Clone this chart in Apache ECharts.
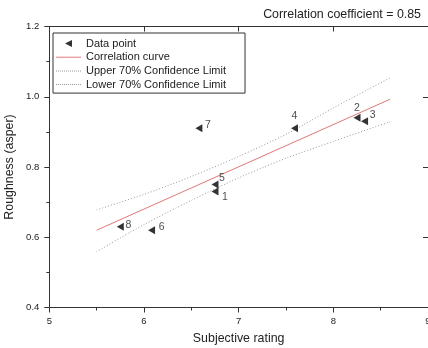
<!DOCTYPE html>
<html>
<head>
<meta charset="utf-8">
<script src="https://cdn.jsdelivr.net/npm/echarts@6/dist/echarts.min.js"></script>
<style>
html,body{margin:0;padding:0;background:#fff;}
#chart{width:428px;height:348px;}
</style>
</head>
<body>
<div id="chart"></div>
<script>
// ---- data ----
var pointNames = ['1', '2', '3', '4', '5', '6', '7', '8'];
var pointX = [6.75, 8.25, 8.33, 7.59, 6.75, 6.08, 6.58, 5.75];
var pointY = [0.73, 0.94, 0.93, 0.91, 0.75, 0.62, 0.91, 0.63];

var fitX = [5.5, 8.6];
var fitY = [0.62, 0.993];

var bandX = [5.5, 6.0, 6.5, 7.0, 7.5, 8.0, 8.6];
var upperY = [0.678, 0.722, 0.773, 0.830, 0.893, 0.968, 1.054];
var lowerY = [0.559, 0.636, 0.705, 0.769, 0.825, 0.873, 0.929];

var xTicks = { min: 5, max: 9, interval: 1 };
var yTicks = { min: 0.4, max: 1.2, interval: 0.2 };

var corrText = 'Correlation coefficient = 0.85';
var xTitle = 'Subjective rating';
var yTitle = 'Roughness (asper)';
var legendNames = ['Data point', 'Correlation curve', 'Upper 70% Confidence Limit', 'Lower 70% Confidence Limit'];

// ---- label placement (style only) ----
var labelOffsets = [[10, 6], [0, -10], [8, -6], [0, -12], [7, -6], [10, -3], [9, -3], [8, -2]];

var FONT = 'Liberation Sans, Arial, sans-serif';
var AXIS = '#333';
var TXT = '#222';

function zip(xs, ys) { return xs.map(function (x, i) { return [x, ys[i]]; }); }

var scatterData = pointX.map(function (x, i) {
  return {
    name: pointNames[i],
    value: [x, pointY[i]],
    label: { offset: labelOffsets[i] }
  };
});

var tri = 'path://M0,5L10,0L10,10Z';
var solidIcon = 'path://M0,0L25,0L25,1L0,1Z';
var dotIcon = 'path://';
for (var k = 0; k < 13; k++) {
  var a = 2 * k;
  dotIcon += 'M' + a + ',0L' + (a + 1) + ',0L' + (a + 1) + ',1L' + a + ',1Z';
}

var chart = echarts.init(document.getElementById('chart'), null, { renderer: 'canvas' });
chart.setOption({
  animation: false,
  backgroundColor: '#fff',
  textStyle: { fontFamily: FONT },
  grid: { left: 49.3, top: 26.5, right: 0, bottom: 40.5, outerBoundsMode: 'none', containLabel: false },
  graphic: [{
    type: 'text', x: 421, y: 15, z: 10,
    style: { text: corrText, align: 'right', verticalAlign: 'middle', fontSize: 12.4, fontFamily: FONT, fill: TXT }
  }],
  legend: {
    orient: 'vertical', left: 53, top: 33,
    padding: [5, 19, 3, 3], itemGap: 2.7, itemWidth: 25, itemHeight: 7,
    backgroundColor: '#fff', borderColor: AXIS, borderWidth: 1,
    textStyle: { fontSize: 11, color: TXT, fontFamily: FONT },
    data: [
      { name: legendNames[0], icon: tri },
      { name: legendNames[1], icon: solidIcon },
      { name: legendNames[2], icon: dotIcon },
      { name: legendNames[3], icon: dotIcon }
    ],
    z: 10
  },
  xAxis: [{
    type: 'value', position: 'bottom', min: xTicks.min, max: xTicks.max, interval: xTicks.interval,
    name: xTitle, nameLocation: 'middle', nameGap: 25,
    nameTextStyle: { fontSize: 12.4, color: TXT, fontFamily: FONT },
    axisLine: { show: true, onZero: false, lineStyle: { color: AXIS, width: 1 } },
    axisTick: { show: true, inside: false, length: 5, lineStyle: { color: AXIS } },
    minorTick: { show: true, splitNumber: 2, length: 3, lineStyle: { color: AXIS } },
    splitLine: { show: false },
    axisLabel: { fontSize: 9.5, color: TXT, margin: 9, fontFamily: FONT }
  }, {
    type: 'value', position: 'top', min: xTicks.min, max: xTicks.max, interval: xTicks.interval,
    axisLine: { show: true, onZero: false, lineStyle: { color: AXIS, width: 1 } },
    axisTick: { show: true, inside: true, length: 5, lineStyle: { color: AXIS } },
    minorTick: { show: false },
    splitLine: { show: false },
    axisLabel: { show: false }
  }],
  yAxis: [{
    type: 'value', position: 'left', min: yTicks.min, max: yTicks.max, interval: yTicks.interval,
    name: yTitle, nameLocation: 'middle', nameGap: 27,
    nameTextStyle: { fontSize: 12.4, color: TXT, fontFamily: FONT },
    axisLine: { show: true, onZero: false, lineStyle: { color: AXIS, width: 1 } },
    axisTick: { show: true, inside: false, length: 5, lineStyle: { color: AXIS } },
    minorTick: { show: true, splitNumber: 2, length: 3, lineStyle: { color: AXIS } },
    splitLine: { show: false },
    axisLabel: { fontSize: 9.5, color: TXT, margin: 10, fontFamily: FONT, formatter: function (v) { return v.toFixed(1); } }
  }, {
    type: 'value', position: 'right', min: yTicks.min, max: yTicks.max, interval: yTicks.interval,
    axisLine: { show: true, onZero: false, lineStyle: { color: AXIS, width: 1 } },
    axisTick: { show: true, inside: true, length: 5, lineStyle: { color: AXIS } },
    minorTick: { show: false },
    splitLine: { show: false },
    axisLabel: { show: false }
  }],
  series: [{
    name: legendNames[0], type: 'scatter', xAxisIndex: 0, yAxisIndex: 0,
    symbol: tri, symbolSize: [7, 8],
    itemStyle: { color: '#000' },
    label: {
      show: true, position: 'inside', align: 'center', verticalAlign: 'middle',
      formatter: '{b}', fontSize: 10.5, color: TXT, fontFamily: FONT
    },
    data: scatterData, z: 5
  }, {
    name: legendNames[1], type: 'line', xAxisIndex: 0, yAxisIndex: 0,
    symbol: 'none', showSymbol: false,
    lineStyle: { color: '#e07878', width: 1 }, itemStyle: { color: '#e07878' },
    data: zip(fitX, fitY), z: 3
  }, {
    name: legendNames[2], type: 'line', xAxisIndex: 0, yAxisIndex: 0,
    symbol: 'none', showSymbol: false, smooth: 0.3,
    lineStyle: { color: '#999', width: 1, type: [1, 2] }, itemStyle: { color: '#999' },
    data: zip(bandX, upperY), z: 3
  }, {
    name: legendNames[3], type: 'line', xAxisIndex: 0, yAxisIndex: 0,
    symbol: 'none', showSymbol: false, smooth: 0.3,
    lineStyle: { color: '#999', width: 1, type: [1, 2] }, itemStyle: { color: '#999' },
    data: zip(bandX, lowerY), z: 3
  }]
});
</script>
</body>
</html>
